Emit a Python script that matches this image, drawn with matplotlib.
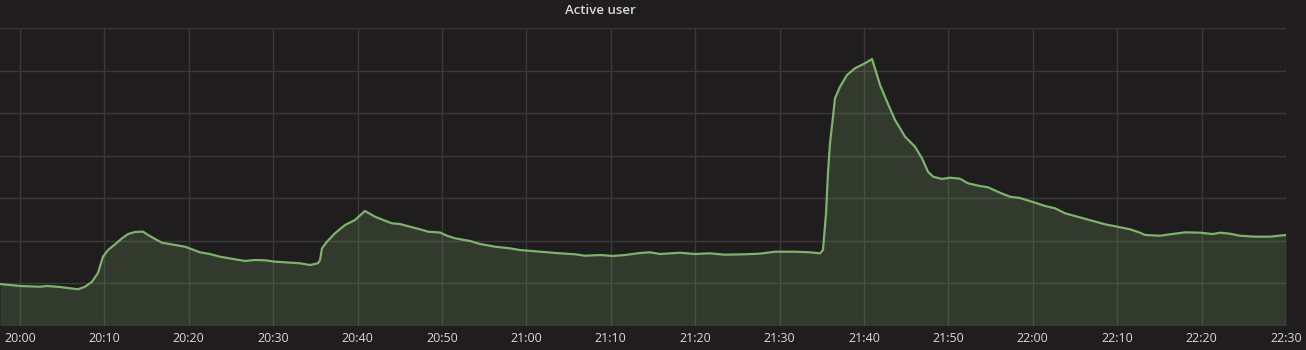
import matplotlib
matplotlib.use("Agg")
import matplotlib.pyplot as plt
import matplotlib.dates as mdates
import pandas as pd

# ==================== Data ====================
# minutes after 20:00 and active-user count
MINUTES = [-2.37, -1.18, 0.0, 2.37, 3.2, 4.74, 5.92, 6.87, 7.7, 8.53, 9.24, 9.83,
           10.43, 11.26, 12.09, 12.8, 13.63, 14.57, 15.17, 16.0, 16.82, 18.36,
           19.55, 21.33, 22.51, 23.7, 25.47, 26.66, 27.84, 29.03, 30.21, 31.99,
           33.18, 34.36, 35.31, 35.55, 35.78, 36.37, 37.32, 38.51, 39.69, 40.87,
           42.06, 43.25, 44.08, 45.02, 46.21, 47.39, 48.34, 49.76, 50.59, 51.54,
           53.32, 54.5, 56.28, 58.06, 59.24, 61.61, 63.98, 65.76, 66.94, 68.72,
           70.26, 71.68, 73.46, 74.64, 75.83, 78.2, 79.98, 81.75, 83.53, 85.9,
           87.68, 89.46, 91.82, 93.6, 94.79, 95.14, 95.5, 95.73, 95.97, 96.33,
           96.56, 97.16, 97.99, 98.93, 100.12, 100.95, 101.42, 101.9, 102.73,
           103.67, 104.27, 104.86, 106.04, 106.87, 107.58, 108.18, 109.24, 110.19,
           111.37, 112.32, 113.74, 114.69, 116.11, 117.3, 118.48, 120.26, 121.45,
           122.63, 123.82, 125.0, 125.95, 127.13, 128.55, 130.33, 131.52, 132.7,
           133.29, 135.07, 136.26, 138.03, 139.81, 141.35, 142.18, 143.36, 144.55,
           146.33, 148.1, 150.0]
USERS = [48.8, 47.6, 46.5, 45.6, 46.5, 45.3, 43.8, 42.6, 45.6, 51.5, 61.8, 80.9,
         88.8, 95.5, 102.6, 107.6, 110.0, 110.4, 106.5, 101.8, 97.4, 94.7,
         92.7, 86.1, 84.1, 80.9, 77.9, 75.9, 77.1, 76.7, 75.1, 73.9,
         73.2, 71.2, 73.2, 77.1, 90.8, 98.6, 108.5, 118.2, 124.1, 134.7,
         128.0, 123.3, 120.2, 119.4, 116.2, 113.2, 110.4, 109.4, 105.6, 102.6,
         99.4, 95.9, 92.7, 90.8, 88.8, 86.8, 84.9, 83.8, 82.1, 82.9,
         81.8, 82.9, 85.3, 86.1, 84.1, 85.6, 84.1, 84.9, 83.3, 83.8,
         84.5, 86.8, 86.8, 86.1, 84.9, 88.8, 132.0, 179.1, 214.4, 245.6,
         267.3, 280.9, 294.7, 302.6, 308.5, 313.5, 298.6, 282.9, 263.3,
         241.8, 232.0, 222.1, 210.4, 196.7, 180.9, 175.1, 172.4, 173.9,
         172.7, 167.3, 164.1, 162.6, 156.2, 151.5, 150.0, 144.5, 140.6,
         137.9, 132.0, 128.8, 126.1, 122.9, 119.1, 115.5, 113.2, 109.2,
         106.5, 105.6, 107.3, 109.6, 109.2, 107.6, 109.2, 108.0, 105.6,
         104.5, 104.5, 106.5]
TITLE = "Active user"

# ==================== Style ====================
BG = "#1f1d1e"
GRID = "#3b3a3b"
LINE = "#7eb26d"
TEXT = "#d8d9da"

base = pd.Timestamp("2018-01-01 20:00:00")
times = base + pd.to_timedelta(MINUTES, unit="min")

fig = plt.figure(figsize=(13.06, 3.5), dpi=100, facecolor=BG)
ax = fig.add_axes([0.0, 0.07, 1286 / 1306, 0.85])
ax.set_facecolor(BG)

ax.fill_between(times, USERS, 0, color=LINE, alpha=0.2, linewidth=0)
ax.plot(times, USERS, color=LINE, linewidth=1.6)

ax.set_xlim(times[0], base + pd.Timedelta(minutes=150))
ax.set_ylim(0, 350)
ax.set_yticks(range(0, 351, 50))
ax.xaxis.set_major_locator(mdates.MinuteLocator(byminute=range(0, 60, 10)))
ax.xaxis.set_major_formatter(mdates.DateFormatter("%H:%M"))

ax.grid(True, color=GRID, linewidth=1)
ax.set_axisbelow(True)
for s in ax.spines.values():
    s.set_visible(False)
ax.tick_params(axis="x", length=0, pad=5, labelcolor=TEXT, labelsize=9)
ax.tick_params(axis="y", length=0, labelleft=False)
for lbl in ax.get_xticklabels():
    lbl.set_fontfamily("Open Sans")

fig.text(600 / 1306, 1 - 11 / 350, TITLE, ha="center", va="center", color=TEXT,
         fontsize=9.5, fontweight="semibold", family="Open Sans")

fig.savefig("out.png", dpi=100, facecolor=BG)
